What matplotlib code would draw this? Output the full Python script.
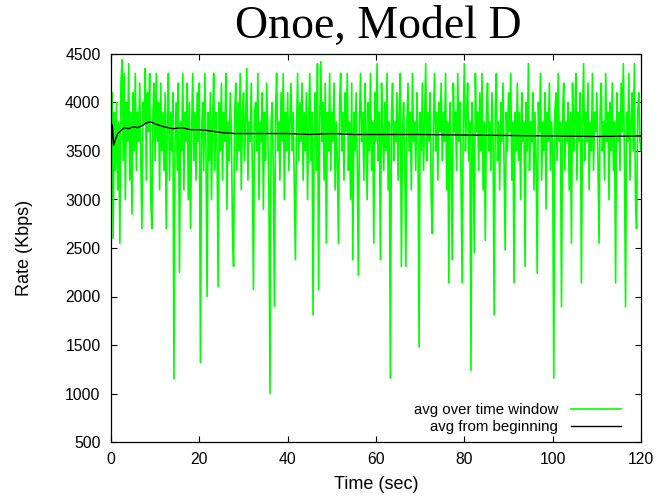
import matplotlib
matplotlib.use("Agg")
import matplotlib.pyplot as plt
import numpy as np

# rate averaged over a time window, one sample every 0.25 s
window_step = 0.25
window_rate = [
    3500, 4100, 2600, 3900, 3300, 4000, 3100, 3800, 2550, 4200, 4440, 3400, 4300, 3000, 4000, 3600, 4400, 3200, 3900, 2850,
    4100, 3500, 4300, 3300, 3900, 3600, 4200, 3400, 2700, 4000, 3800, 4350, 3200, 4100, 3700, 4300, 3000, 2700, 3900, 4200,
    3400, 4300, 3600, 4000, 3100, 4200, 3500, 3900, 3300, 4100, 2700, 3800, 4300, 3200, 3900, 3500, 4100, 1150, 3600, 4000,
    3300, 4200, 2250, 3800, 3500, 4300, 3100, 3900, 3600, 4200, 3000, 4000, 2700, 3700, 4300, 3400, 3900, 3200, 4100, 3600,
    4200, 1320, 3700, 4000, 3300, 4300, 3500, 2000, 3900, 3400, 4100, 3000, 3800, 4300, 3300, 3900, 3600, 2100, 4000, 3500,
    4200, 3200, 3900, 3600, 4300, 2900, 3800, 3400, 4100, 3700, 2700, 2310, 3900, 4200, 3300, 4000, 3500, 4300, 3100, 3800,
    4100, 3400, 3900, 4350, 3200, 3800, 3600, 4200, 3300, 2070, 3900, 4000, 3500, 4300, 3000, 3800, 3600, 4100, 2900, 3900,
    3400, 4200, 3700, 3100, 1000, 3800, 4000, 3300, 1900, 3900, 4300, 3500, 3800, 3200, 4100, 3600, 4300, 3000, 3900, 3500,
    4100, 3300, 3800, 4200, 3500, 3900, 3100, 2380, 3700, 4300, 3400, 4000, 3600, 4200, 3200, 3900, 3500, 4100, 3000, 3800,
    4300, 3400, 3900, 1810, 3700, 4100, 3300, 4400, 2070, 3800, 4420, 3600, 4000, 3200, 4200, 2550, 3900, 3500, 4300, 3300,
    3900, 3600, 4200, 3100, 3800, 3400, 2550, 4000, 4300, 3500, 3900, 3200, 4100, 3700, 4300, 3300, 3800, 3000, 4200, 2380,
    3900, 3500, 4100, 3400, 2220, 3800, 4300, 3600, 3900, 3200, 4200, 3700, 3000, 4000, 3500, 4300, 3300, 3800, 2550, 4100,
    3600, 4400, 3400, 3900, 2380, 4200, 3700, 3300, 4000, 3500, 4300, 3100, 3800, 1160, 3900, 4200, 3400, 3800, 3600, 4100,
    3200, 3900, 4300, 2310, 3700, 4000, 3400, 2310, 3800, 4200, 3500, 3900, 3100, 4300, 3600, 3800, 3300, 4100, 3700, 1480,
    3900, 3500, 4200, 3300, 3800, 4400, 3400, 3900, 3600, 4100, 3000, 2650, 3800, 4300, 3500, 3900, 3200, 4000, 3700, 4200,
    3400, 3900, 3600, 4300, 3100, 3800, 2140, 4000, 3500, 2380, 4200, 3700, 3900, 3300, 4300, 3600, 4000, 3200, 2140, 3800,
    4400, 3500, 3900, 4200, 3400, 3800, 1240, 4000, 3600, 2450, 4300, 3700, 3900, 3300, 4100, 3500, 4300, 3100, 3800, 2580,
    3900, 4200, 3500, 3800, 3300, 4100, 3600, 1810, 3900, 4300, 3400, 3800, 3100, 4000, 3600, 4200, 3300, 2480, 3900, 3500,
    4100, 3700, 4300, 3200, 3800, 2140, 3900, 3500, 4200, 3400, 3900, 3000, 4100, 3600, 3800, 2310, 4000, 3500, 4400, 3300,
    3800, 3600, 4100, 3100, 3900, 3400, 2240, 4000, 3700, 4300, 3200, 3800, 3500, 4100, 2900, 3900, 3600, 4200, 3300, 3800,
    3500, 1160, 3900, 4100, 3400, 4300, 3600, 3800, 1895, 3900, 4200, 3300, 3800, 3600, 4000, 3100, 3900, 2550, 4200, 3500,
    3800, 4300, 3200, 3900, 3600, 4100, 2140, 3800, 4400, 3400, 3900, 3600, 4200, 3100, 3800, 3500, 4300, 3300, 3900, 3700,
    4100, 3400, 2550, 3900, 4200, 3500, 3800, 3200, 4300, 3600, 3900, 3000, 4000, 3500, 4200, 3300, 3800, 2140, 4100, 3600,
    3900, 3300, 4200, 3700, 4400, 3400, 1895, 3900, 3600, 4300, 3200, 3800, 4100, 3500, 4400, 3000, 2700, 3900, 4100, 3600,
    3500,
]

# running average from the beginning
avg_time = [0, 0.3, 0.6, 1, 1.5, 2, 3, 4, 5, 6, 7, 8, 9, 10, 12, 14, 16, 18, 20, 22,
            25, 28, 30, 35, 40, 45, 50, 55, 60, 70, 80, 90, 100, 110, 120]
avg_rate = [3480, 3770, 3560, 3620, 3680, 3700, 3740, 3730, 3750, 3740, 3760, 3790, 3800, 3780, 3750, 3730, 3740, 3720, 3720, 3710,
            3690, 3680, 3680, 3680, 3680, 3670, 3680, 3670, 3670, 3670, 3665, 3660, 3655, 3650, 3655]

x_ticks = [0, 20, 40, 60, 80, 100, 120]
y_ticks = [500, 1000, 1500, 2000, 2500, 3000, 3500, 4000, 4500]

plt.rcParams['font.family'] = ['Liberation Sans', 'DejaVu Sans']

fig = plt.figure(figsize=(6.58, 4.98), dpi=100)
ax = fig.add_axes([111 / 658, 56 / 498, 530 / 658, 388 / 498])

t = np.arange(len(window_rate)) * window_step
ax.plot(t, window_rate, color='#00ff00', lw=1.2, label='avg over time window')
ax.plot(avg_time, avg_rate, color='black', lw=1.0, label='avg from beginning')

ax.set_xlim(0, 120)
ax.set_ylim(500, 4500)
ax.set_xticks(x_ticks)
ax.set_yticks(y_ticks)
ax.tick_params(direction='in', top=True, right=True, length=4.5, labelsize=11.3, width=0.8)
ax.tick_params(axis='x', pad=7)
ax.tick_params(axis='y', pad=7.5)
for s in ax.spines.values():
    s.set_linewidth(0.9)

ax.set_xlabel('Time (sec)', fontsize=13)
ax.xaxis.set_label_coords(0.5, -0.088)
ax.set_ylabel('Rate (Kbps)', fontsize=13)
ax.yaxis.set_label_coords(-0.147, 0.5)

fig.text(378 / 658, 1 - 38 / 498, 'Onoe, Model D', family='Liberation Serif', fontsize=33,
         ha='center', va='baseline')

leg = ax.legend(loc='lower right', bbox_to_anchor=(0.962, 0.02), frameon=False,
                markerfirst=False, fontsize=10.8, handlelength=3.3, handletextpad=0.87,
                labelspacing=0.2, borderaxespad=0, borderpad=0)
for txt in leg.get_texts():
    txt.set_ha('right')

fig.savefig('out.png', dpi=100)
